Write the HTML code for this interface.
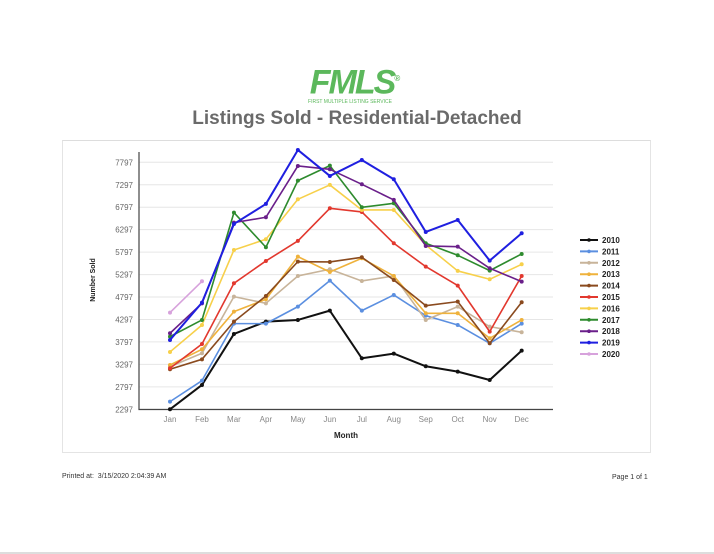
<!DOCTYPE html>
<html><head><meta charset="utf-8"><style>
body{margin:0;width:714px;height:554px;background:#fff;position:relative;overflow:hidden;font-family:"Liberation Sans",sans-serif}
.abs{position:absolute}
</style></head><body>
<div class="abs" style="left:294px;top:62px;width:120px;text-align:center">
 <div style="font:italic bold 34px 'Liberation Sans',sans-serif;color:#5cb85c;letter-spacing:-2px;line-height:34px">FMLS<sup style="font-size:8px;font-style:normal">®</sup></div>
 <div style="font-size:5px;color:#5cb85c;line-height:6px;margin-left:-8px">FIRST MULTIPLE LISTING SERVICE</div>
</div>
<div class="abs" style="left:0;width:714px;top:108px;text-align:center;font:bold 19px 'Liberation Sans',sans-serif;color:#6a6a6a">Listings Sold - Residential-Detached</div>
<div class="abs" style="left:62px;top:140px;width:589px;height:313px;border:1px solid #e4e4e4;border-top-color:#ddd;box-sizing:border-box"></div>
<svg class="abs" style="left:0;top:0" width="714" height="554" id="chart"></svg>
<div class="abs" style="left:62px;top:473px;font-size:7px;color:#333">Printed at:&nbsp; 3/15/2020 2:04:39 AM</div>
<div class="abs" style="left:612px;top:474px;font-size:7px;color:#333">Page 1 of 1</div>
<div class="abs" style="left:0;top:552px;width:714px;height:2px;background:#ddd"></div>
<script>
const months=["Jan","Feb","Mar","Apr","May","Jun","Jul","Aug","Sep","Oct","Nov","Dec"];
const yTicks=[2297,2797,3297,3797,4297,4797,5297,5797,6297,6797,7297,7797];
const seriesNames=["2010","2011","2012","2013","2014","2015","2016","2017","2018","2019","2020"];
const seriesColors=["#111111","#5b8fe0","#c8b49a","#efb23c","#8a4a1e","#e2382e","#f7d04a","#2e8b2e","#6a1f8a","#1f1fe0","#d7a2dc"];
const s2010=[2297,2839,3975,4249,4286,4494,3433,3537,3255,3136,2950,3603];
const s2011=[2468,2935,4205,4205,4583,5162,4494,4843,4383,4175,3767,4205];
const s2012=[3247,3544,4806,4657,5266,5415,5155,5266,4286,4583,4138,4012];
const s2013=[3284,3633,4472,4747,5697,5355,5660,5266,4435,4435,3878,4286];
const s2014=[3188,3410,4249,4821,5585,5578,5682,5177,4605,4695,3767,4680];
const s2015=[3210,3752,5103,5600,6046,6773,6691,5994,5474,5051,4027,5266];
const s2016=[3574,4175,5845,6083,6973,7293,6736,6736,5956,5378,5192,5526];
const s2017=[3915,4286,6677,5905,7389,7723,6795,6884,5994,5726,5385,5756];
const s2018=[3990,4657,6454,6573,7716,7641,7307,6959,5934,5919,5437,5140];
const s2019=[3841,4672,6424,6870,8072,7493,7849,7419,6246,6513,5608,6216];
const s2020=[4450,5147];
const allSeries=[s2010,s2011,s2012,s2013,s2014,s2015,s2016,s2017,s2018,s2019,s2020];
const svg=document.getElementById('chart');const NS="http://www.w3.org/2000/svg";
function mk(t,a,p){const e=document.createElementNS(NS,t);for(const k in a)e.setAttribute(k,a[k]);(p||svg).appendChild(e);return e;}
const x=i=>170+i*31.97;
const y=v=>409.3-(v-2297)*(247/5500);
yTicks.forEach(t=>{
 const g=mk('line',{x1:139,x2:553,y1:y(t),y2:y(t),stroke:'#e6e6e6','stroke-width':1});
 
 const l=mk('text',{x:133,y:y(t)+3,'text-anchor':'end','font-size':8,fill:'#666','font-family':'Liberation Sans'});l.textContent=t;
 
});
months.forEach((m,i)=>{const l=mk('text',{x:x(i),y:422,'text-anchor':'middle','font-size':8,fill:'#888','font-family':'Liberation Sans'});l.textContent=m;
 });
const ax=mk('path',{d:'M139 152 V409.5 H553',fill:'none',stroke:'#444','stroke-width':1.2});

const xt=mk('text',{x:346,y:438,'text-anchor':'middle','font-size':8,'font-weight':'bold',fill:'#222'});xt.textContent='Month';

const yt=mk('text',{x:0,y:0,transform:'translate(95,280) rotate(-90)','text-anchor':'middle','font-size':7,'font-weight':'bold',fill:'#222'});yt.textContent='Number Sold';

allSeries.forEach((s,k)=>{
 const c=seriesColors[k];
 const pl=mk('polyline',{points:s.map((v,i)=>x(i)+','+y(v)).join(' '),fill:'none',stroke:c,'stroke-width':k==0||k==9?2:1.6,'stroke-linejoin':'round'});
 
 s.forEach((v,i)=>{const d=mk('circle',{cx:x(i),cy:y(v),r:2,fill:c});
  });
 const ly=240+k*11.4;
 const ll=mk('line',{x1:580,x2:598,y1:ly,y2:ly,stroke:c,'stroke-width':2});
 
 mk('circle',{cx:589,cy:ly,r:1.8,fill:c});
 const lt=mk('text',{x:602,y:ly+3,'font-size':8,'font-weight':'bold',fill:'#222'});lt.textContent=seriesNames[k];
 
});
</script>
</body></html>
